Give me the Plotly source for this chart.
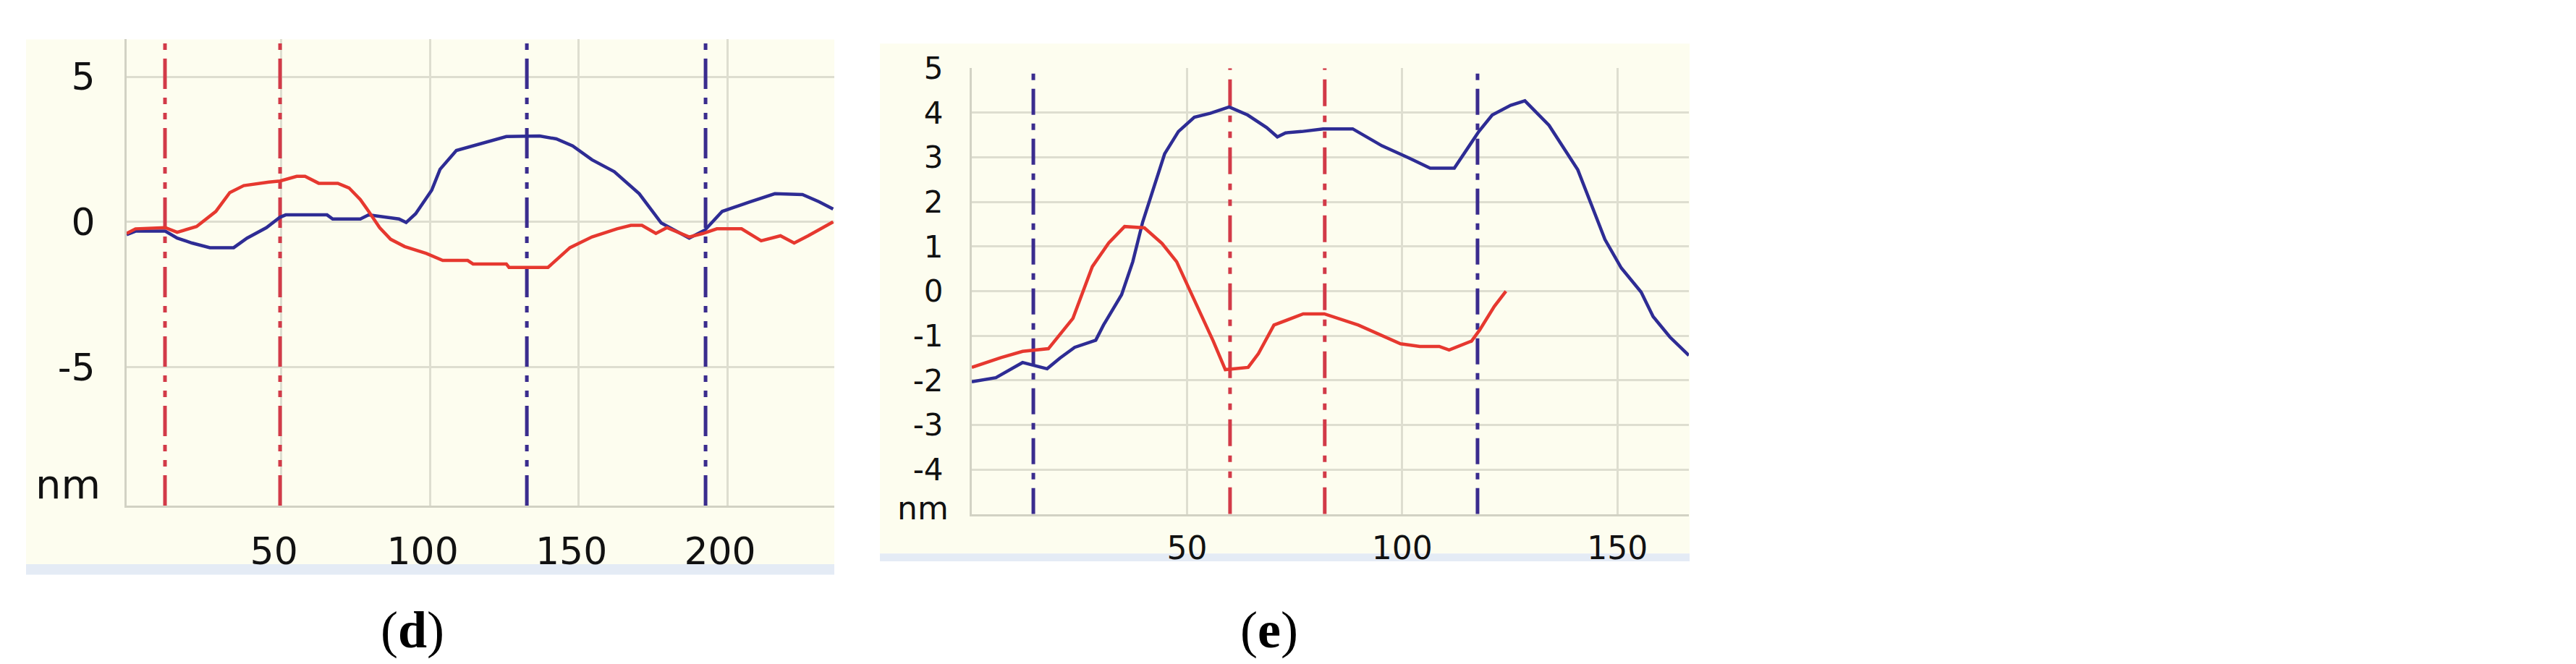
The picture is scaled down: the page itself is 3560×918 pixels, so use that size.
import plotly.graph_objects as go

W, H = 3560, 918

# ---------------- Panel (d) data ----------------
d_blue_x = [-2, 1, 11, 15, 20, 26, 34, 38.5, 45, 49.6, 51.5, 65.4, 67.3, 76.6, 79.4, 89.6, 92, 95.2,
            100.6, 103.4, 108.9, 118.3, 125.7, 136.9, 142.5, 148, 154.5, 162, 170.4, 177.8, 187.2,
            192.5, 198.3, 207.6, 216, 225.3, 230.9, 235.6]
d_blue_y = [-0.44, -0.32, -0.32, -0.56, -0.73, -0.89, -0.89, -0.56, -0.2, 0.16, 0.24, 0.24, 0.1, 0.1,
            0.24, 0.1, -0.02, 0.28, 1.09, 1.81, 2.46, 2.74, 2.94, 2.96, 2.86, 2.62, 2.14, 1.73, 0.97,
            -0.04, -0.56, -0.28, 0.36, 0.69, 0.97, 0.94, 0.69, 0.44]

d_red_x = [-2, 1, 11, 15, 21.5, 28, 32.7, 37.4, 45.8, 49.6, 55.2, 58, 62.6, 69, 72.8, 76.6, 79.4,
           83.1, 86.8, 91.5, 98.8, 104.3, 112.7, 114.5, 125.7, 126.6, 139.7, 147.1, 154.5, 162.9,
           167.6, 171.3, 176, 179.7, 187.2, 191.8, 196.5, 204.8, 211.4, 217.9, 222.5, 227.2, 235.6]
d_red_y = [-0.4, -0.24, -0.2, -0.36, -0.16, 0.36, 1.01, 1.25, 1.37, 1.41, 1.57, 1.57, 1.33, 1.33,
           1.17, 0.77, 0.36, -0.2, -0.6, -0.85, -1.09, -1.33, -1.33, -1.45, -1.45, -1.57, -1.57,
           -0.89, -0.52, -0.24, -0.12, -0.12, -0.4, -0.2, -0.52, -0.4, -0.24, -0.24, -0.65, -0.48,
           -0.73, -0.48, 0.0]

d_red_cursors = [10.9, 49.6]
d_blue_cursors = [132.6, 192.7]

d_xticks = [50, 100, 150, 200]
d_xticktext = ["50", "100", "150", "200"]
d_yticks = [-5, 0, 5]
d_yticktext = ["-5", "0", "5"]
d_xrange = [-2, 236]
d_yrange = [-9.78, 6.29]

# ---------------- Panel (e) data ----------------
e_blue_x = [0, 5.6, 11.8, 14.3, 17.5, 20.5, 23.9, 28.8, 30.6, 34.8, 37.4, 39.7, 42.3, 44.8, 48.0,
            51.7, 55.4, 59.8, 64.1, 68.5, 71.0, 72.9, 76.6, 81.6, 88.5, 95.3, 101.5, 106.5, 112.1,
            117.8, 120.9, 125.2, 128.5, 134.1, 140.8, 143.7, 147.1, 150.9, 155.5, 158.3, 162.2, 166.6]
e_blue_y = [-2.03, -1.94, -1.6, -1.66, -1.74, -1.5, -1.26, -1.1, -0.76, -0.08, 0.66, 1.55, 2.34,
            3.08, 3.58, 3.9, 3.99, 4.13, 3.95, 3.67, 3.46, 3.55, 3.58, 3.64, 3.64, 3.26, 2.99, 2.76,
            2.76, 3.58, 3.95, 4.17, 4.27, 3.72, 2.72, 1.99, 1.16, 0.52, -0.02, -0.57, -1.03, -1.44]

e_red_x = [0, 6.8, 11.8, 14.3, 17.8, 23.5, 28, 31.8, 35.5, 40.1, 44.2, 47.6, 51.7, 56.1, 58.9, 64.2,
           66.6, 70.2, 77, 81.9, 89.8, 94.1, 99.6, 104.1, 108.6, 110.9, 116.1, 118, 121.4, 124.1]
e_red_y = [-1.71, -1.49, -1.35, -1.33, -1.29, -0.61, 0.55, 1.08, 1.45, 1.42, 1.07, 0.66, -0.21,
           -1.12, -1.76, -1.71, -1.4, -0.76, -0.51, -0.51, -0.76, -0.94, -1.18, -1.24, -1.24,
           -1.32, -1.12, -0.87, -0.34, 0.0]

e_blue_cursors = [14.3, 117.5]
e_red_cursors = [60, 82]

e_xticks = [50, 100, 150]
e_xticktext = ["50", "100", "150"]
e_yticks = [-4, -3, -2, -1, 0, 1, 2, 3, 4, 5]
e_yticktext = ["-4", "-3", "-2", "-1", "0", "1", "2", "3", "4", "5"]
e_xrange = [0, 166.6]
e_yrange = [-5, 5]

unit_label = "nm"
captions = ["d", "e"]

# ---------------- styling ----------------
BLUE = "#2E2C94"
RED = "#E6382F"
CUR_RED = "#D23A48"
CUR_BLUE = "#3A2C8E"
BG = "#FDFDEF"
STRIP = "#E4EBF5"
GRID = "#DEDED0"
AXLINE = "#D2D2C4"
TXT = "#111111"
FONT = "DejaVu Sans"


def px(x):
    return x / W


def py(y):
    return 1 - y / H


fig = go.Figure()

# cursor lines (d)
for v in d_red_cursors:
    fig.add_trace(go.Scatter(x=[v, v], y=d_yrange, mode="lines", xaxis="x", yaxis="y",
                             line=dict(color=CUR_RED, width=5, dash="42px,12px,9px,12px,9px,12px"),
                             showlegend=False, hoverinfo="skip"))
for v in d_blue_cursors:
    fig.add_trace(go.Scatter(x=[v, v], y=d_yrange, mode="lines", xaxis="x", yaxis="y",
                             line=dict(color=CUR_BLUE, width=5, dash="42px,12px,9px,12px,9px,12px"),
                             showlegend=False, hoverinfo="skip"))
# curves (d)
fig.add_trace(go.Scatter(x=d_blue_x, y=d_blue_y, mode="lines", xaxis="x", yaxis="y",
                         line=dict(color=BLUE, width=4.5), showlegend=False))
fig.add_trace(go.Scatter(x=d_red_x, y=d_red_y, mode="lines", xaxis="x", yaxis="y",
                         line=dict(color=RED, width=4.5), showlegend=False))

# cursor lines (e)
for v in e_blue_cursors:
    fig.add_trace(go.Scatter(x=[v, v], y=e_yrange, mode="lines", xaxis="x2", yaxis="y2",
                             line=dict(color=CUR_BLUE, width=5, dash="36px,12px,9px,12px"),
                             showlegend=False, hoverinfo="skip"))
for v in e_red_cursors:
    fig.add_trace(go.Scatter(x=[v, v], y=e_yrange, mode="lines", xaxis="x2", yaxis="y2",
                             line=dict(color=CUR_RED, width=5, dash="37px,13px,9px,13px,9px,13px"),
                             showlegend=False, hoverinfo="skip"))
# curves (e)
fig.add_trace(go.Scatter(x=e_blue_x, y=e_blue_y, mode="lines", xaxis="x2", yaxis="y2",
                         line=dict(color=BLUE, width=4.5), showlegend=False))
fig.add_trace(go.Scatter(x=e_red_x, y=e_red_y, mode="lines", xaxis="x2", yaxis="y2",
                         line=dict(color=RED, width=4.5), showlegend=False))

shapes = [
    # panel d background + strip
    dict(type="rect", xref="paper", yref="paper", x0=px(28), x1=px(1145), y0=py(768), y1=py(23),
         fillcolor=BG, line=dict(width=0), layer="below"),
    dict(type="rect", xref="paper", yref="paper", x0=px(28), x1=px(1145), y0=py(783), y1=py(768),
         fillcolor=STRIP, line=dict(width=0), layer="below"),
    # panel e background + strip
    dict(type="rect", xref="paper", yref="paper", x0=px(1208), x1=px(2327), y0=py(753), y1=py(29),
         fillcolor=BG, line=dict(width=0), layer="below"),
    dict(type="rect", xref="paper", yref="paper", x0=px(1208), x1=px(2327), y0=py(764), y1=py(753),
         fillcolor=STRIP, line=dict(width=0), layer="below"),
]

annotations = [
    dict(text=unit_label, xref="paper", yref="paper", x=px(133), y=py(655), xanchor="right",
         yanchor="middle", showarrow=False, font=dict(family=FONT, size=56, color=TXT)),
    dict(text=unit_label, xref="paper", yref="paper", x=px(1305), y=py(688), xanchor="right",
         yanchor="middle", showarrow=False, font=dict(family=FONT, size=44, color=TXT)),
    dict(text="(<b>%s</b>)" % captions[0], xref="paper", yref="paper", x=px(562), y=py(862),
         xanchor="center", yanchor="middle", showarrow=False,
         font=dict(family="Liberation Serif", size=72, color="#000000")),
    dict(text="(<b>%s</b>)" % captions[1], xref="paper", yref="paper", x=px(1746), y=py(862),
         xanchor="center", yanchor="middle", showarrow=False,
         font=dict(family="Liberation Serif", size=72, color="#000000")),
]

common_axis = dict(showgrid=True, gridcolor=GRID, gridwidth=3, zeroline=False, showline=True,
                   linecolor=AXLINE, linewidth=3, ticks="outside", tickcolor="rgba(0,0,0,0)",
                   fixedrange=True)

fig.update_layout(
    width=W, height=H, margin=dict(l=0, r=0, t=0, b=0),
    paper_bgcolor="white", plot_bgcolor="rgba(0,0,0,0)",
    showlegend=False,
    shapes=shapes, annotations=annotations,
    xaxis=dict(domain=[px(167), px(1145)], range=d_xrange, anchor="y",
               tickvals=d_xticks, ticktext=d_xticktext, ticklen=16, ticklabelshift=-10,
               tickfont=dict(family=FONT, size=52, color=TXT), **common_axis),
    yaxis=dict(domain=[py(685), py(23)], range=d_yrange, anchor="x",
               tickvals=d_yticks, ticktext=d_yticktext, ticklen=30,
               tickfont=dict(family=FONT, size=52, color=TXT), **common_axis),
    xaxis2=dict(domain=[px(1335), px(2326)], range=e_xrange, anchor="y2",
                tickvals=e_xticks, ticktext=e_xticktext, ticklen=6,
                tickfont=dict(family=FONT, size=44, color=TXT), **common_axis),
    yaxis2=dict(domain=[py(697), py(64)], range=e_yrange, anchor="x2",
                tickvals=e_yticks, ticktext=e_yticktext, ticklen=28,
                tickfont=dict(family=FONT, size=42, color=TXT), **common_axis),
)

fig.write_html("out.html")
